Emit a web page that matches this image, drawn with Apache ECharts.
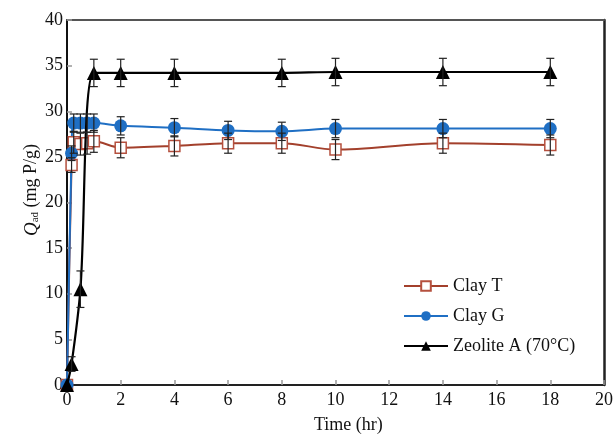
<!DOCTYPE html>
<html>
<head>
<meta charset="utf-8">
<script src="https://cdn.jsdelivr.net/npm/echarts@6/dist/echarts.min.js"></script>
<style>
  html, body { margin: 0; padding: 0; background: #fff; }
  #chart { width: 616px; height: 437px; }
</style>
</head>
<body>
<div id="chart"></div>
<script>
// sampling times (hr)
var timeClay = [0, 0.17, 0.25, 0.5, 0.75, 1, 2, 4, 6, 8, 10, 14, 18]
var timeZeolite = [0, 0.17, 0.5, 1, 2, 4, 8, 10, 14, 18]

// Q_ad values (mg P/g)
var clayT = [0, 24.1, 26.6, 26.4, 26.5, 26.7, 26.0, 26.2, 26.5, 26.5, 25.8, 26.5, 26.3]
var clayTErr = [0, 0.8, 1.2, 1.2, 1.2, 1.2, 1.1, 1.1, 1.1, 1.1, 1.1, 1.1, 1.1]
var clayG = [0, 25.4, 28.7, 28.7, 28.7, 28.7, 28.4, 28.2, 27.9, 27.8, 28.1, 28.1, 28.1]
var clayGErr = [0, 0.8, 1.0, 1.0, 1.0, 1.0, 1.0, 1.0, 1.0, 1.0, 1.0, 1.0, 1.0]
var zeolite = [0, 2.3, 10.5, 34.2, 34.2, 34.2, 34.2, 34.3, 34.3, 34.3]
var zeoliteErr = [0, 0.8, 2.0, 1.5, 1.5, 1.5, 1.5, 1.5, 1.5, 1.5]

var seriesNames = ['Clay T', 'Clay G', 'Zeolite A (70°C)']

var serif = '"Liberation Serif", "DejaVu Serif", serif'

function pairs(xs, ys) {
  var out = []
  for (var i = 0; i < xs.length; i++) out.push([xs[i], ys[i]])
  return out
}

function errData(xs, ys, es) {
  var out = []
  for (var i = 0; i < xs.length; i++) {
    if (es[i] > 0) out.push([xs[i], ys[i] - es[i], ys[i] + es[i]])
  }
  return out
}

// 误差线
function errorBars(name, data) {
  return {
    name: name,
    type: 'custom',
    z: 5,
    silent: true,
    renderItem: function (params, api) {
      var lo = api.coord([api.value(0), api.value(1)])
      var hi = api.coord([api.value(0), api.value(2)])
      var w = 4
      var st = { stroke: '#222', lineWidth: 1.2 }
      return {
        type: 'group',
        children: [
          { type: 'line', shape: { x1: lo[0], y1: lo[1], x2: hi[0], y2: hi[1] }, style: st },
          { type: 'line', shape: { x1: lo[0] - w, y1: lo[1], x2: lo[0] + w, y2: lo[1] }, style: st },
          { type: 'line', shape: { x1: hi[0] - w, y1: hi[1], x2: hi[0] + w, y2: hi[1] }, style: st }
        ]
      }
    },
    encode: { x: 0, y: [1, 2] },
    data: data
  }
}

var myChart = echarts.init(document.getElementById('chart'))

var option = {
  backgroundColor: '#fff',
  animation: false,
  grid: { left: 67, right: 10, top: 20, bottom: 52 },
  legend: {
    orient: 'vertical',
    left: 398,
    top: 272,
    itemWidth: 44,
    itemHeight: 12,
    itemGap: 12,
    data: seriesNames,
    textStyle: { fontFamily: serif, fontSize: 18, color: '#111' }
  },
  xAxis: [{
    type: 'value',
    min: 0,
    max: 20,
    interval: 2,
    axisLine: { onZero: false, lineStyle: { color: '#222', width: 2 } },
    axisTick: { inside: true, length: 5, lineStyle: { color: '#999', width: 1.5 } },
    axisLabel: { fontFamily: serif, fontSize: 18, color: '#111', margin: 6 },
    splitLine: { show: false }
  }, {
    type: 'value',
    position: 'top',
    min: 0,
    max: 20,
    axisLine: { onZero: false, lineStyle: { color: '#555', width: 2 } },
    axisTick: { show: false },
    axisLabel: { show: false },
    splitLine: { show: false }
  }],
  yAxis: [{
    type: 'value',
    min: 0,
    max: 40,
    interval: 5,
    axisLine: { show: true, onZero: false, lineStyle: { color: '#111', width: 2 } },
    axisTick: { show: true, inside: true, length: 5, lineStyle: { color: '#999', width: 1.5 } },
    axisLabel: { fontFamily: serif, fontSize: 18, color: '#111', margin: 4 },
    splitLine: { show: false }
  }, {
    type: 'value',
    position: 'right',
    min: 0,
    max: 40,
    axisLine: { show: true, onZero: false, lineStyle: { color: '#222', width: 2.5 } },
    axisTick: { show: false },
    axisLabel: { show: false },
    splitLine: { show: false }
  }],
  graphic: [{
    type: 'text',
    left: 314,
    top: 416,
    style: { text: 'Time (hr)', font: '18px ' + serif, fill: '#111' }
  }, {
    type: 'text',
    x: 22,
    y: 236,
    rotation: Math.PI / 2,
    style: {
      text: '{q|Q}{s|ad} (mg P/g)',
      font: '18px ' + serif,
      fill: '#111',
      rich: {
        q: { fontFamily: serif, fontSize: 19, fontStyle: 'italic', fill: '#111' },
        s: { fontFamily: serif, fontSize: 11, fill: '#111', padding: [8, 0, 0, 0] }
      }
    }
  }],
  series: [{
    name: 'Clay T',
    type: 'line',
    smooth: 0.3,
    symbol: 'rect',
    symbolSize: 11,
    z: 3,
    lineStyle: { color: '#a3402c', width: 2 },
    itemStyle: { color: '#fff', borderColor: '#b5503e', borderWidth: 1.5 },
    data: pairs(timeClay, clayT)
  }, {
    name: 'Clay G',
    type: 'line',
    smooth: 0.3,
    symbol: 'circle',
    symbolSize: 13,
    z: 3,
    lineStyle: { color: '#1f6fc4', width: 2 },
    itemStyle: { color: '#1f6fc4' },
    data: pairs(timeClay, clayG)
  }, {
    name: 'Zeolite A (70°C)',
    type: 'line',
    smooth: 0.3,
    symbol: 'triangle',
    symbolSize: 14,
    z: 4,
    lineStyle: { color: '#000', width: 2.2 },
    itemStyle: { color: '#000' },
    data: pairs(timeZeolite, zeolite)
  },
  errorBars('Clay T', errData(timeClay, clayT, clayTErr)),
  errorBars('Clay G', errData(timeClay, clayG, clayGErr)),
  errorBars('Zeolite A (70°C)', errData(timeZeolite, zeolite, zeoliteErr))
  ]
}

myChart.setOption(option)
</script>
</body>
</html>
